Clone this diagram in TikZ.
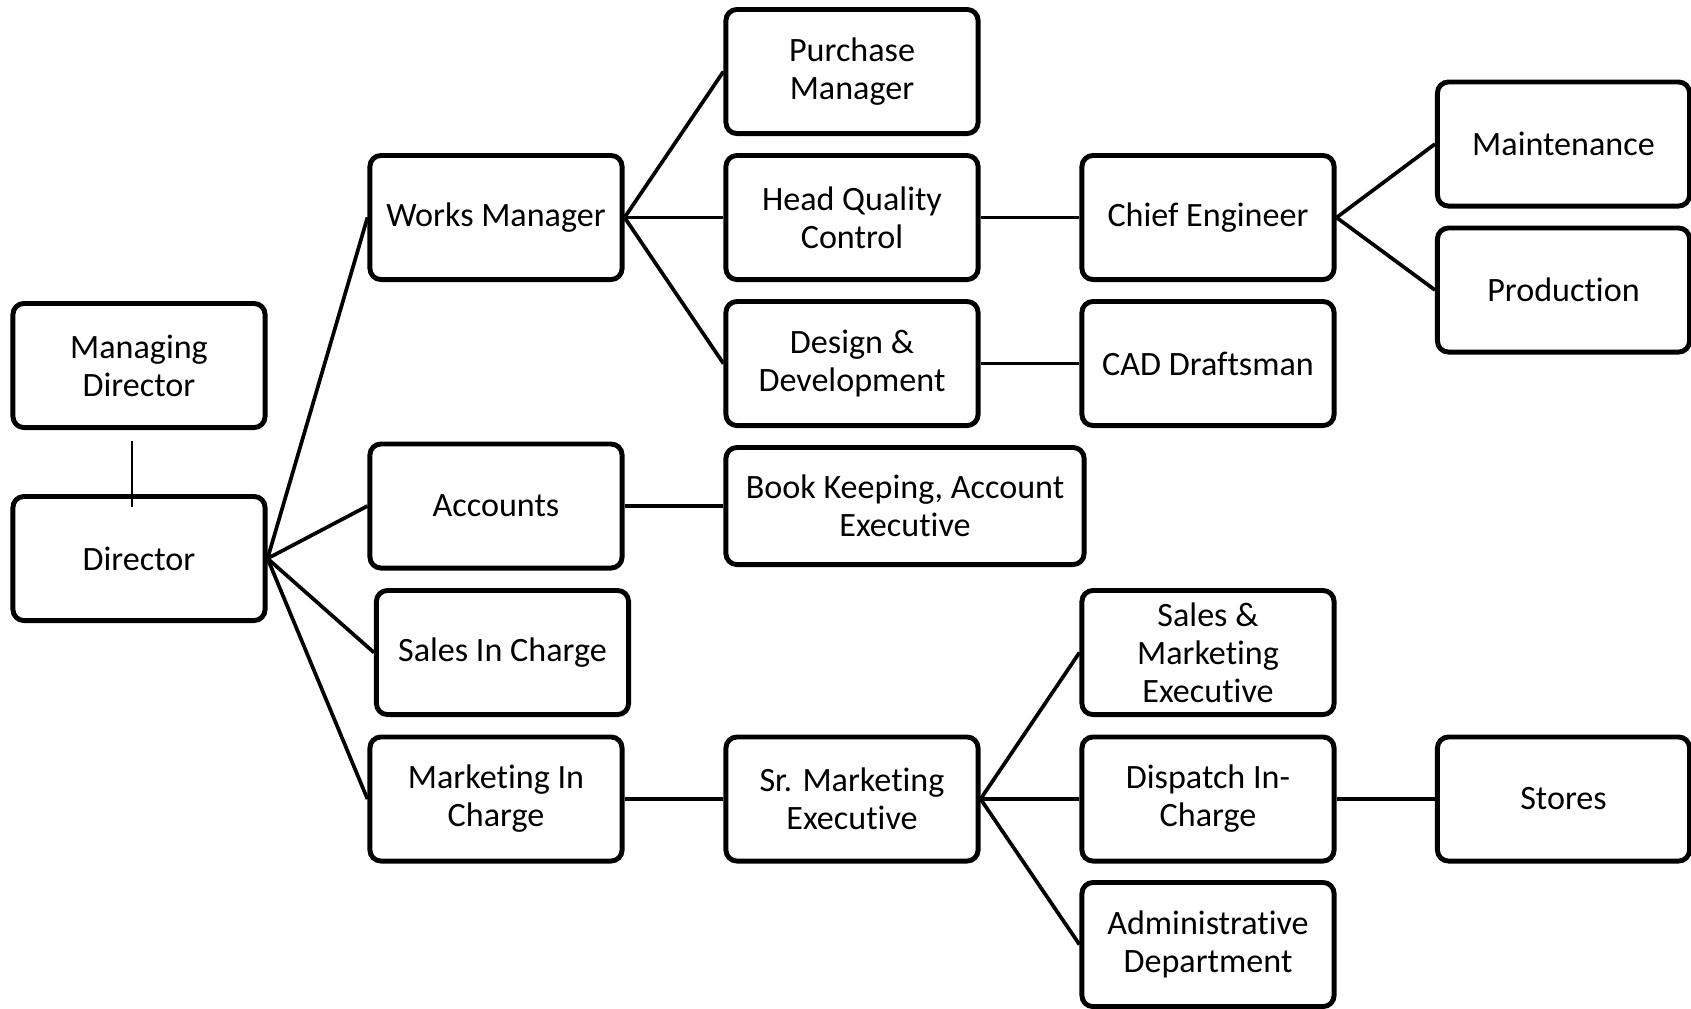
\documentclass[tikz,border=0pt]{standalone}
\usepackage{fontspec}
\setmainfont{Carlito}[Ligatures={NoCommon,NoContextual,NoRequired}]

\begin{document}
\begin{tikzpicture}[x=0.01cm, y=-0.01cm, line width=1.05pt,
    every node/.style={draw, rounded corners=0.11cm, line width=1.4pt, minimum width=2.52cm, minimum height=1.24cm, align=center, inner sep=1pt, font=\fontsize{9.7}{10.8}\selectfont}]
                \useasboundingbox (0,0) rectangle (1691,1008);

                \node (MD) at (139,365.5) {Managing\\Director};
                \node (D) at (139,558.5) {Director};

                \node (WM) at (496,217.5) {Works Manager};
                \node (AC) at (496,506) {Accounts};
                \node (SC) at (502.5,652.5) {Sales In Charge};
                \node (MC) at (496,799) {Marketing In\\Charge};

                \node (PM) at (852,71.5) {Purchase\\Manager};
                \node (QC) at (852,217.5) {Head Quality\\Control};
                \node (DD) at (852,363.5) {Design \&\\Development};
                \node[minimum width=3.58cm, minimum height=1.17cm] (BK) at (905,506) {Book Keeping, Account\\Executive};
                \node (SM) at (852,799) {Sr. Marketing\\Executive};

                \node (CE) at (1208,217.5) {Chief Engineer};
                \node (CD) at (1208,363.5) {CAD Draftsman};
                \node (SE) at (1208,652.5) {Sales \&\\Marketing\\Executive};
                \node (DI) at (1208,799) {Dispatch In-\\Charge};
                \node (AD) at (1208,944.5) {Administrative\\Department};

                \node (MT) at (1563.5,144) {Maintenance};
                \node (PR) at (1563.5,290) {Production};
                \node (ST) at (1563.5,799) {Stores};

                \draw[line width=0.45pt] ([xshift=-0.07cm,yshift=-0.11cm]MD.south) -- ([xshift=-0.07cm,yshift=-0.13cm]D.north);

                \draw (D.east) -- (WM.west);
                \draw (D.east) -- (AC.west);
                \draw (D.east) -- (SC.west);
                \draw (D.east) -- (MC.west);

                \draw (WM.east) -- (PM.west);
                \draw (WM.east) -- (QC.west);
                \draw (WM.east) -- (DD.west);
                \draw (AC.east) -- (BK.west);
                \draw (MC.east) -- (SM.west);

                \draw (QC.east) -- (CE.west);
                \draw (DD.east) -- (CD.west);
                \draw (SM.east) -- (SE.west);
                \draw (SM.east) -- (DI.west);
                \draw (SM.east) -- (AD.west);

                \draw (CE.east) -- (MT.west);
                \draw (CE.east) -- (PR.west);
                \draw (DI.east) -- (ST.west);
            \end{tikzpicture}
\end{document}
